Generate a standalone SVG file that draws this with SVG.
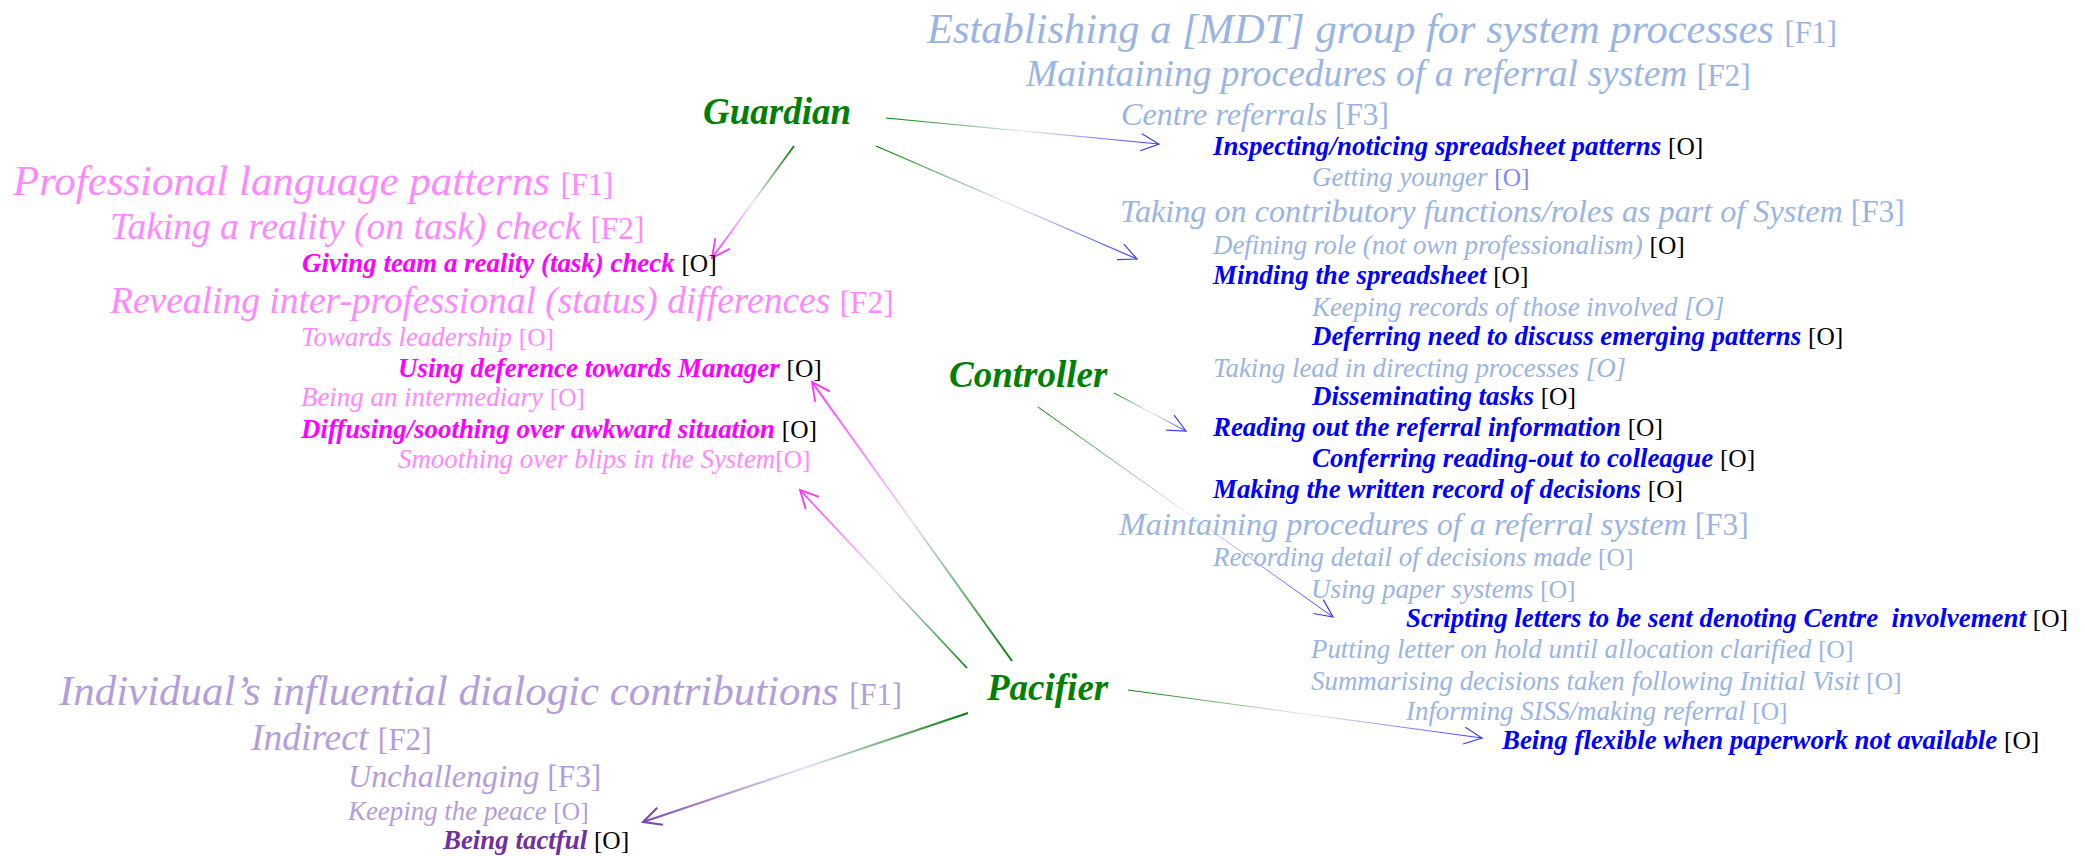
<svg xmlns="http://www.w3.org/2000/svg" width="2085" height="856" viewBox="0 0 2085 856">
<style>
text{font-family:"Liberation Serif","Times New Roman",serif;font-style:italic;white-space:pre}
.f1{font-size:42.9px}.f2{font-size:37.5px}.f3{font-size:32.2px}.o{font-size:26.9px}
.b{font-weight:bold}
.t1{font-size:30.5px;font-style:normal;font-weight:normal}
.tf{font-size:31.3px;font-style:normal;font-weight:normal}
.to{font-size:25.4px;font-style:normal;font-weight:normal}
.ti{font-size:26.9px;font-weight:normal}
.lb{fill:#9ab4e3}.bb{fill:#0000ff}.lp{fill:#ff88ff}.mp{fill:#ff00ff}.lu{fill:#b39ddb}.du{fill:#7030a0}.k{fill:#000}.pv{fill:#8484ff}
.node{font-size:37px;font-weight:bold;fill:#008000}
.c{fill:none}
</style>
<defs>
<marker id="ab" markerUnits="userSpaceOnUse" markerWidth="20" markerHeight="20" refX="0" refY="0" orient="auto" overflow="visible"><path d="M-18,-8.5 L0,0 L-18,8.5" fill="none" stroke="#3a3aff" stroke-width="1.2"/></marker>
<marker id="am" markerUnits="userSpaceOnUse" markerWidth="20" markerHeight="20" refX="0" refY="0" orient="auto" overflow="visible"><path d="M-18,-9 L0,0 L-18,9" fill="none" stroke="#ff33ff" stroke-width="1.8"/></marker>
<marker id="ap" markerUnits="userSpaceOnUse" markerWidth="20" markerHeight="20" refX="0" refY="0" orient="auto" overflow="visible"><path d="M-18,-9 L0,0 L-18,9" fill="none" stroke="#7a45b0" stroke-width="2"/></marker>
<linearGradient id="g1" gradientUnits="userSpaceOnUse" x1="886" y1="118" x2="1159" y2="144"><stop offset="0" stop-color="#008000"/><stop offset="0.5" stop-color="#e4ecf4"/><stop offset="1" stop-color="#3a3aff"/></linearGradient>
<linearGradient id="g2" gradientUnits="userSpaceOnUse" x1="876" y1="146" x2="1137" y2="259"><stop offset="0" stop-color="#008000"/><stop offset="0.5" stop-color="#e4ecf4"/><stop offset="1" stop-color="#3a3aff"/></linearGradient>
<linearGradient id="g3" gradientUnits="userSpaceOnUse" x1="794" y1="146" x2="712" y2="258"><stop offset="0" stop-color="#008000"/><stop offset="0.5" stop-color="#e8e4f4"/><stop offset="1" stop-color="#ff33ff"/></linearGradient>
<linearGradient id="g4" gradientUnits="userSpaceOnUse" x1="1114" y1="393" x2="1186" y2="431"><stop offset="0" stop-color="#008000"/><stop offset="0.5" stop-color="#e4ecf4"/><stop offset="1" stop-color="#3a3aff"/></linearGradient>
<linearGradient id="g5" gradientUnits="userSpaceOnUse" x1="1038" y1="407" x2="1333" y2="617"><stop offset="0" stop-color="#008000"/><stop offset="0.5" stop-color="#e4ecf4"/><stop offset="1" stop-color="#3a3aff"/></linearGradient>
<linearGradient id="g6" gradientUnits="userSpaceOnUse" x1="1012" y1="661" x2="812" y2="382"><stop offset="0" stop-color="#008000"/><stop offset="0.5" stop-color="#e8e4f4"/><stop offset="1" stop-color="#ff33ff"/></linearGradient>
<linearGradient id="g7" gradientUnits="userSpaceOnUse" x1="967" y1="668" x2="800" y2="490"><stop offset="0" stop-color="#008000"/><stop offset="0.5" stop-color="#e8e4f4"/><stop offset="1" stop-color="#ff33ff"/></linearGradient>
<linearGradient id="g8" gradientUnits="userSpaceOnUse" x1="1128" y1="690" x2="1482" y2="738"><stop offset="0" stop-color="#008000"/><stop offset="0.5" stop-color="#e4ecf4"/><stop offset="1" stop-color="#3a3aff"/></linearGradient>
<linearGradient id="g9" gradientUnits="userSpaceOnUse" x1="968" y1="713" x2="643" y2="822"><stop offset="0" stop-color="#008000"/><stop offset="0.5" stop-color="#e2e4f4"/><stop offset="1" stop-color="#7a45b0"/></linearGradient>
</defs>
<rect width="2085" height="856" fill="#fff"/>
<g id="connectors">
<line class="c" x1="886" y1="118" x2="1159" y2="144" stroke="url(#g1)" stroke-width="1.2" marker-end="url(#ab)"/>
<line class="c" x1="876" y1="146" x2="1137" y2="259" stroke="url(#g2)" stroke-width="1.2" marker-end="url(#ab)"/>
<line class="c" x1="794" y1="146" x2="712" y2="258" stroke="url(#g3)" stroke-width="1.8" marker-end="url(#am)"/>
<line class="c" x1="1114" y1="393" x2="1186" y2="431" stroke="url(#g4)" stroke-width="1" marker-end="url(#ab)"/>
<line class="c" x1="1038" y1="407" x2="1333" y2="617" stroke="url(#g5)" stroke-width="1" marker-end="url(#ab)"/>
<line class="c" x1="1012" y1="661" x2="812" y2="382" stroke="url(#g6)" stroke-width="2" marker-end="url(#am)"/>
<line class="c" x1="967" y1="668" x2="800" y2="490" stroke="url(#g7)" stroke-width="1.6" marker-end="url(#am)"/>
<line class="c" x1="1128" y1="690" x2="1482" y2="738" stroke="url(#g8)" stroke-width="1" marker-end="url(#ab)"/>
<line class="c" x1="968" y1="713" x2="643" y2="822" stroke="url(#g9)" stroke-width="2" marker-end="url(#ap)"/>
</g>
<g id="guardian"><text class="node" x="703" y="124">Guardian</text></g>
<g id="controller"><text class="node" x="949" y="387">Controller</text></g>
<g id="pacifier"><text class="node" x="987" y="700">Pacifier</text></g>
<g id="system-processes">
<text class="f1 lb" x="927" y="43" style="font-size:42.5px">Establishing a [MDT] group for system processes <tspan class="t1">[F1]</tspan></text>
<text class="f2 lb" x="1026" y="86">Maintaining procedures of a referral system <tspan class="tf">[F2]</tspan></text>
<text class="f3 lb" x="1121" y="125">Centre referrals <tspan class="tf">[F3]</tspan></text>
<text class="o b bb" x="1213" y="155">Inspecting/noticing spreadsheet patterns <tspan class="to k">[O]</tspan></text>
<text class="o lb" x="1312" y="186">Getting younger <tspan class="to pv">[O]</tspan></text>
<text class="f3 lb" x="1120" y="222">Taking on contributory functions/roles as part of System <tspan class="tf">[F3]</tspan></text>
<text class="o lb" x="1213" y="254">Defining role (not own professionalism) <tspan class="to k">[O]</tspan></text>
<text class="o b bb" x="1213" y="284">Minding the spreadsheet <tspan class="to k">[O]</tspan></text>
<text class="o lb" x="1312" y="316">Keeping records of those involved <tspan class="ti">[O]</tspan></text>
<text class="o b bb" x="1312" y="345">Deferring need to discuss emerging patterns <tspan class="to k">[O]</tspan></text>
<text class="o lb" x="1213" y="377">Taking lead in directing processes <tspan class="ti">[O]</tspan></text>
<text class="o b bb" x="1312" y="405">Disseminating tasks <tspan class="to k">[O]</tspan></text>
<text class="o b bb" x="1213" y="436">Reading out the referral information <tspan class="to k">[O]</tspan></text>
<text class="o b bb" x="1312" y="467">Conferring reading-out to colleague <tspan class="to k">[O]</tspan></text>
<text class="o b bb" x="1213" y="498">Making the written record of decisions <tspan class="to k">[O]</tspan></text>
<text class="f3 lb" x="1119" y="535">Maintaining procedures of a referral system <tspan class="tf">[F3]</tspan></text>
<text class="o lb" x="1213" y="566">Recording detail of decisions made <tspan class="to">[O]</tspan></text>
<text class="o lb" x="1311" y="598">Using paper systems <tspan class="to">[O]</tspan></text>
<text class="o b bb" x="1406" y="627">Scripting letters to be sent denoting Centre  involvement <tspan class="to k">[O]</tspan></text>
<text class="o lb" x="1311" y="658">Putting letter on hold until allocation clarified <tspan class="to">[O]</tspan></text>
<text class="o lb" x="1311" y="690">Summarising decisions taken following Initial Visit <tspan class="to">[O]</tspan></text>
<text class="o lb" x="1406" y="720">Informing SISS/making referral <tspan class="to">[O]</tspan></text>
<text class="o b bb" x="1502" y="749">Being flexible when paperwork not available <tspan class="to k">[O]</tspan></text>
</g>
<g id="professional-language">
<text class="f1 lp" x="13" y="195">Professional language patterns <tspan class="t1">[F1]</tspan></text>
<text class="f2 lp" x="110" y="239">Taking a reality (on task) check <tspan class="tf">[F2]</tspan></text>
<text class="o b mp" x="302" y="272">Giving team a reality (task) check <tspan class="to k">[O]</tspan></text>
<text class="f2 lp" x="110" y="313">Revealing inter-professional (status) differences <tspan class="tf">[F2]</tspan></text>
<text class="o lp" x="301" y="346">Towards leadership <tspan class="to">[O]</tspan></text>
<text class="o b mp" x="398" y="377">Using deference towards Manager <tspan class="to k">[O]</tspan></text>
<text class="o lp" x="301" y="406">Being an intermediary <tspan class="to">[O]</tspan></text>
<text class="o b mp" x="301" y="438">Diffusing/soothing over awkward situation <tspan class="to k">[O]</tspan></text>
<text class="o lp" x="398" y="468">Smoothing over blips in the System<tspan class="to">[O]</tspan></text>
</g>
<g id="dialogic-contributions">
<text class="f1 lu" x="59" y="705">Individual’s influential dialogic contributions <tspan class="t1">[F1]</tspan></text>
<text class="f2 lu" x="251" y="750">Indirect <tspan class="tf">[F2]</tspan></text>
<text class="f3 lu" x="348" y="787">Unchallenging <tspan class="tf">[F3]</tspan></text>
<text class="o lu" x="348" y="820">Keeping the peace <tspan class="to">[O]</tspan></text>
<text class="o b du" x="443" y="849">Being tactful <tspan class="to k">[O]</tspan></text>
</g>
</svg>
